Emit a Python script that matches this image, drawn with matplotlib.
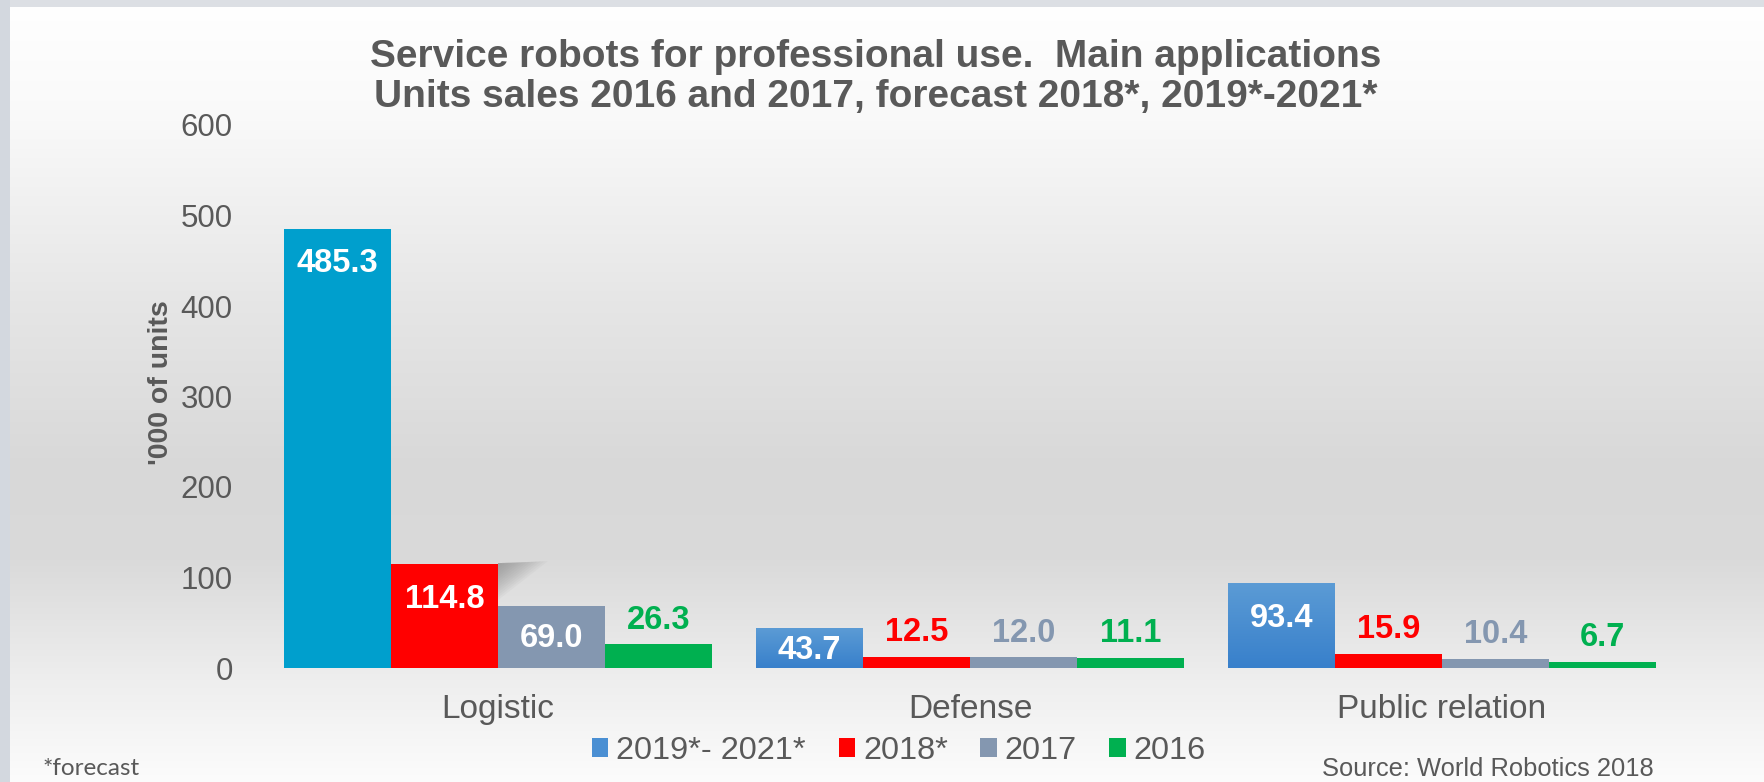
import numpy as np
import matplotlib
matplotlib.use("Agg")
import matplotlib.pyplot as plt
from matplotlib.patches import Patch, Rectangle, Polygon

# ---- data ----
categories = ["Logistic", "Defense", "Public relation"]
series_names = ["2019*- 2021*", "2018*", "2017", "2016"]
values_2019_2021 = [485.3, 43.7, 93.4]
values_2018 = [114.8, 12.5, 15.9]
values_2017 = [69.0, 12.0, 10.4]
values_2016 = [26.3, 11.1, 6.7]
y_ticks = [0, 100, 200, 300, 400, 500, 600]

series_values = [values_2019_2021, values_2018, values_2017, values_2016]
series_colors = ["#4a8fd3", "#ff0000", "#8497b0", "#00b050"]
label_colors = ["#ffffff", "#ff0000", "#8497b0", "#00b050"]

W, H = 1764, 782
TXT = "#595959"
plt.rcParams['font.family'] = ['Liberation Sans', 'DejaVu Sans']

fig = plt.figure(figsize=(W / 100, H / 100), dpi=100)

# ---- background gradient ----
bg = fig.add_axes([0, 0, 1, 1])
bg.set_xlim(0, W)
bg.set_ylim(H, 0)
bg.axis('off')
ys = np.arange(H)
stops_y = [0, 120, 300, 470, 560, 680, 782]
stops_v = [255, 249, 230, 216, 218, 238, 252]
v = np.interp(ys, stops_y, stops_v) / 255.0
grad = np.repeat(v[:, None], 2, axis=1)
bg.imshow(np.dstack([grad, grad, grad]), extent=[0, W, H, 0], aspect='auto', zorder=0)
bg.add_patch(Rectangle((0, 0), W, 7, color="#dcdfe4", zorder=1, lw=0))
bg.add_patch(Rectangle((0, 0), 10, H, color="#d3d8df", zorder=1, lw=0))

# ---- main axes ----
ax_l, ax_r, ax_t, ax_b = 262, 1678, 125, 668
ax = fig.add_axes([ax_l / W, 1 - ax_b / H, (ax_r - ax_l) / W, (ax_b - ax_t) / H])
ax.patch.set_alpha(0)
ax.set_xlim(-0.5, len(categories) - 0.5)
ax.set_ylim(0, 600)
for s in ax.spines.values():
    s.set_visible(False)

px_per_unit = (ax_b - ax_t) / 600.0
px_per_x = (ax_r - ax_l) / len(categories)
bw = 107 / 472.0
x = np.arange(len(categories))
for i, (vals, col) in enumerate(zip(series_values, series_colors)):
    xs = x + (i - 1.5) * bw
    bars = ax.bar(xs, vals, width=bw, color=col, zorder=3, linewidth=0)
    for j, (b, val) in enumerate(zip(bars, vals)):
        if i == 0:
            if j == 0:
                b.set_facecolor("#009fcd")
            else:
                gimg = np.linspace(0, 1, 64)[:, None]
                top = np.array([0x5b, 0x9b, 0xd5]) / 255.0
                bot = np.array([0x38, 0x80, 0xcb]) / 255.0
                cimg = top[None, None, :] * (1 - gimg[:, :, None]) + bot[None, None, :] * gimg[:, :, None]
                im = ax.imshow(cimg, extent=[b.get_x(), b.get_x() + bw, 0, val],
                               aspect='auto', zorder=3.5, origin='upper')
                im.set_clip_path(b)
        if i == 1 and j == 0:
            # soft diagonal shadow behind the bar top
            x0 = b.get_x() + bw
            n = 14
            for k in range(n):
                f = 1 - k / float(n)
                dx = 50 * f / px_per_x
                dy = 36 * f / px_per_unit
                ax.add_patch(Polygon([(x0, val + 1 / px_per_unit), (x0 + dx, val + 3 * f / px_per_unit),
                                      (x0, val - dy)], closed=True, facecolor="#7a7a7a",
                                     alpha=0.055, lw=0, zorder=2.5))
        hpx = val * px_per_unit
        if val > 30:
            off = -min(35, hpx / 2 + 2)
            c = "#ffffff"
        else:
            off = 24
            c = label_colors[i]
        ax.annotate(f"{val:.1f}", (b.get_x() + bw / 2, val), xytext=(0, off * 0.72),
                    textcoords='offset points', ha='center', va='center',
                    fontsize=23.5, fontweight='bold', color=c, zorder=5)

ax.set_xlim(-0.5, len(categories) - 0.5)
ax.set_ylim(0, 600)
ax.set_yticks(y_ticks)
ax.set_yticklabels([str(t) for t in y_ticks])
ax.set_xticks(x)
ax.set_xticklabels(categories)
ax.tick_params(axis='y', length=0, pad=21, labelsize=22.5, labelcolor=TXT)
ax.tick_params(axis='x', length=0, pad=19, labelsize=24, labelcolor=TXT)

# ---- texts ----
fig.text(161 / W, 1 - 383 / H, "'000 of units", rotation=90, ha='center', va='center',
         fontsize=20.5, fontweight='bold', color=TXT)
fig.text(876 / W, 1 - 67 / H, "Service robots for professional use.  Main applications",
         ha='center', va='baseline', fontsize=28, fontweight='bold', color=TXT)
fig.text(876 / W, 1 - 107 / H, "Units sales 2016 and 2017, forecast 2018*, 2019*-2021*",
         ha='center', va='baseline', fontsize=28, fontweight='bold', color=TXT)
fig.text(43 / W, 1 - 775 / H, "*forecast", ha='left', va='baseline', fontsize=17.5,
         color=TXT, family=['Lato', 'DejaVu Sans'])
fig.text(1654 / W, 1 - 776 / H, "Source: World Robotics 2018", ha='right', va='baseline',
         fontsize=18.4, color=TXT)

handles = [Patch(facecolor=c, edgecolor='none') for c in series_colors]
fig.legend(handles, series_names, loc='center', bbox_to_anchor=(899 / W, 1 - 751 / H),
           ncol=4, frameon=False, fontsize=23.4, handlelength=0.5, handleheight=0.55,
           handletextpad=0.25, columnspacing=1.0, borderpad=0, labelcolor=TXT)

fig.savefig("out.png", dpi=100)
